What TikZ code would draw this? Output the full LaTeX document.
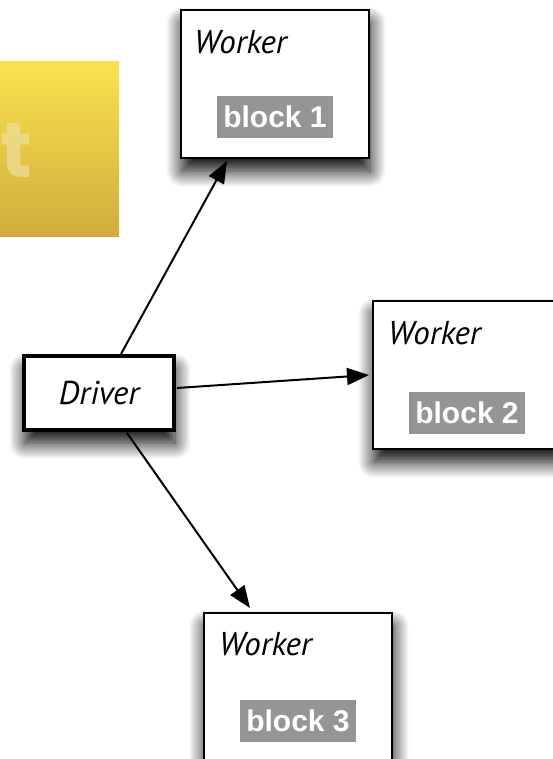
\documentclass[tikz,border=0pt]{standalone}
\usepackage{fontspec}
\newfontfamily\workerfont{PT Sans}
\newfontfamily\blockfont{Liberation Sans}
\newfontfamily\titlefont{Poppins}
\usepackage{xcolor}
\usetikzlibrary{arrows.meta,positioning,shadows.blur}
\definecolor{goldtop}{HTML}{F9E24F}
\definecolor{goldbottom}{HTML}{D1AC3C}
\definecolor{goldletter}{HTML}{EEE0A4}
\definecolor{blockgray}{HTML}{959595}

\begin{document}
\begin{tikzpicture}[
    x=1pt, y=-1pt,
    node distance=10pt,
    softshadow/.style={blur shadow={shadow xshift=1pt, shadow yshift=-13pt, shadow blur radius=16pt, shadow blur steps=16, shadow opacity=100}},
    workerbox/.style={draw, line width=2pt, fill=white, minimum width=188pt, minimum height=148pt, inner sep=0pt, outer sep=0pt, anchor=north west, softshadow},
    driverbox/.style={draw, line width=4pt, fill=white, minimum width=150pt, minimum height=74pt, inner sep=0pt, outer sep=0pt, softshadow, font=\workerfont\itshape\fontsize{33pt}{38pt}\selectfont},
    rolelabel/.style={inner sep=0pt, font=\workerfont\itshape\fontsize{33pt}{38pt}\selectfont},
    blocklabel/.style={fill=blockgray, text=white, inner xsep=6.5pt, inner ysep=0pt, minimum height=42pt, font=\blockfont\bfseries\fontsize{30pt}{36pt}\selectfont},
    >={Triangle[length=22pt, width=17pt]}
  ]
    \useasboundingbox (0,0) rectangle (552,759);
    % gold tile, cut at the left edge
    \shade[top color=goldtop, bottom color=goldbottom] (0,62) rectangle (119,236);
    \begin{scope}
      \clip (0,62) rectangle (119,236);
      \node[inner sep=0pt, anchor=base east, text=goldletter, opacity=0.65, font=\titlefont\bfseries\fontsize{78pt}{80pt}\selectfont] (title) at (32,178) {t};
    \end{scope}

    \node[workerbox] (w1) at (181,10) {};
    \node[workerbox] (w2) at (373,301) {};
    \node[workerbox, minimum height=170pt] (w3) at (204,613) {};
    \node[driverbox] (driver) at (99,393) {Driver};

    \node[rolelabel, below right=20pt and 13pt of w1.north west] (role1) {Worker};
    \node[rolelabel, below right=20pt and 15pt of w2.north west] (role2) {Worker};
    \node[rolelabel, below right=19pt and 15pt of w3.north west] (role3) {Worker};
    \node[blocklabel, below=86pt of w1.north] (blk1) {block 1};
    \node[blocklabel, below=91pt of w2.north] (blk2) {block 2};
    \node[blocklabel, below=87pt of w3.north] (blk3) {block 3};

    \draw[->, line width=2pt] ([shift={(22,-2)}]driver.north) -- ([shift={(-48,3)}]w1.south);
    \draw[->, line width=2pt] ([shift={(3,-5)}]driver.east) -- ([shift={(-4,0)}]w2.west);
    \draw[->, line width=2pt] ([shift={(28,3)}]driver.south) -- ([shift={(-48,-5)}]w3.north);
  \end{tikzpicture}
\end{document}
